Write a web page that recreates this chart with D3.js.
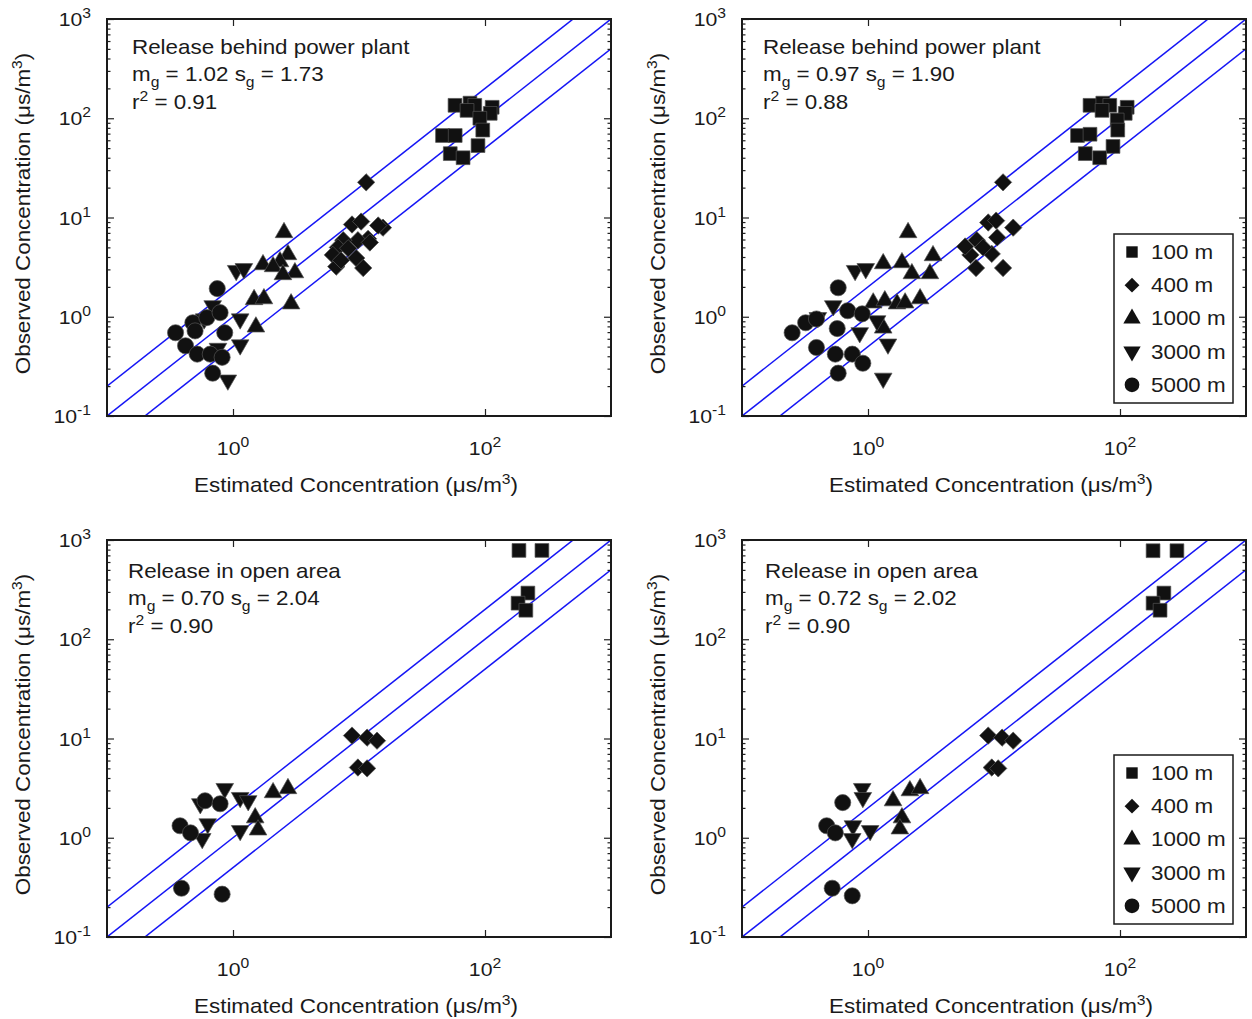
<!DOCTYPE html>
<html><head><meta charset="utf-8">
<script src="https://cdn.jsdelivr.net/npm/d3@7"></script>
<style>
body{margin:0;background:#fff}
text{font-family:"Liberation Sans",Arial,Helvetica,sans-serif;fill:#1a1a1a}
</style>
</head><body>
<svg id="c" width="1252" height="1019"></svg>
<script>
// ---------- data ----------
const seriesNames = ["100 m","400 m","1000 m","3000 m","5000 m"];
const xTickValues = [1, 100];
const xTickExp = ["0","2"];
const yTickValues = [0.1, 1, 10, 100, 1000];
const yTickExp = ["-1","0","1","2","3"];
const ratioLines = [0.5, 1, 2];

const panelTitles = ["Release behind power plant","Release behind power plant","Release in open area","Release in open area"];
const panelMg = ["1.02","0.97","0.70","0.72"];
const panelSg = ["1.73","1.90","2.04","2.02"];
const panelR2 = ["0.91","0.88","0.90","0.90"];

// top-left
const tlSq = [[57.8,135],[76,142],[83,135],[72,120],[114,129],[110,112],[91,100],[96,76],[46,67],[58,67],[88,53],[53,44],[67,40]];
const tlDi = [[11.4,22.6],[8.8,8.5],[10.4,9.1],[15.5,7.9],[14.2,8.3],[11.8,6.1],[9.8,5.9],[7.5,5.9],[6.8,5.0],[8.2,4.9],[6.2,4.2],[9.5,3.9],[10.8,3.1],[6.6,3.2],[7.2,3.7],[12.2,5.6]];
const tlUp = [[2.54,7.05],[2.73,4.23],[2.36,3.59],[1.73,3.35],[2.08,3.20],[3.10,2.78],[2.49,2.66],[2.89,1.35],[1.47,1.49],[1.76,1.52],[1.52,0.79]];
const tlDn = [[1.06,2.92],[1.22,3.05],[0.69,1.29],[0.59,0.95],[1.14,0.95],[1.14,0.52],[0.76,0.48],[0.91,0.23]];
const tlCi = [[0.75,1.92],[0.35,0.69],[0.48,0.87],[0.62,0.98],[0.79,1.10],[0.86,0.69],[0.42,0.51],[0.52,0.42],[0.66,0.42],[0.82,0.39],[0.69,0.27],[0.50,0.72]];
// top-right
const trSq = [[57.8,135],[73,142],[83,135],[72,120],[114,129],[110,112],[95,96],[96,76],[46,67],[57.8,69],[88,52],[53,44],[69,40]];
const trDi = [[11.8,22.6],[9.0,8.9],[10.4,9.3],[14.2,7.9],[10.6,6.3],[7.3,5.9],[6.5,4.2],[9.6,4.3],[11.8,3.1],[7.2,3.1],[8.2,5.0],[5.9,5.1]];
const trUp = [[2.08,7.05],[1.32,3.43],[1.86,3.51],[3.28,4.13],[2.23,2.72],[3.10,2.72],[1.10,1.38],[1.36,1.45],[1.70,1.35],[1.97,1.38],[2.59,1.52],[1.32,0.77]];
const trDn = [[0.79,2.92],[0.96,3.05],[0.53,1.29],[0.40,0.98],[0.86,0.69],[1.18,0.91],[1.44,0.53],[1.32,0.24]];
const trCi = [[0.58,1.96],[0.25,0.69],[0.32,0.87],[0.39,0.95],[0.57,0.76],[0.69,1.15],[0.90,1.07],[0.39,0.49],[0.55,0.42],[0.75,0.42],[0.91,0.34],[0.58,0.27]];
// bottom-left
const blSq = [[186,785],[283,785],[219,292],[183,231],[211,196]];
const blDi = [[8.8,10.7],[11.6,10.2],[13.9,9.5],[9.8,5.1],[11.6,5.0]];
const blUp = [[2.08,2.85],[2.73,3.13],[1.50,1.59],[1.58,1.20]];
const blDn = [[0.86,3.13],[1.14,2.54],[1.32,2.36],[0.63,1.38],[0.57,0.98],[1.14,1.18],[0.55,2.2]];
const blCi = [[0.60,2.36],[0.79,2.2],[0.38,1.32],[0.46,1.12],[0.39,0.31],[0.82,0.27]];
// bottom-right
const brSq = [[183,780],[283,780],[223,292],[183,231],[208,196]];
const brDi = [[9.0,10.7],[11.6,10.2],[14.2,9.5],[9.6,5.1],[10.8,5.0]];
const brUp = [[1.58,2.36],[2.15,2.98],[2.59,3.13],[1.86,1.59],[1.79,1.23]];
const brDn = [[0.90,3.13],[0.91,2.54],[0.76,1.32],[1.04,1.18],[0.75,0.98]];
const brCi = [[0.63,2.26],[0.47,1.32],[0.55,1.12],[0.52,0.31],[0.75,0.26]];

const panelData = [
  [tlSq, tlDi, tlUp, tlDn, tlCi],
  [trSq, trDi, trUp, trDn, trCi],
  [blSq, blDi, blUp, blDn, blCi],
  [brSq, brDi, brUp, brDn, brCi]
];
const panelLegend = [false, true, false, true];

// ---------- layout ----------
const svg = d3.select("#c");
const layouts = [
  {x0:107, x1:611, y0:19,  y1:416},
  {x0:742, x1:1246, y0:19, y1:416},
  {x0:107, x1:611, y0:540, y1:937},
  {x0:742, x1:1246, y0:540, y1:937}
];
const fill = "#111", strokeC = "#555";
const SX = 1.12; // horizontal stretch of the reference lettering

function txt(g, x, y, size, anchor, rot){
  return g.append("text")
    .attr("transform", `translate(${x},${y})` + (rot ? ` rotate(${rot})` : "") + ` scale(${SX},1)`)
    .attr("text-anchor", anchor || "start").style("font-size", size + "px");
}

function markerPath(k){
  if(k===0) return d3.symbol(d3.symbolSquare, 190)();
  if(k===1) return d3.symbol(d3.symbolSquare, 150)();
  if(k===2 || k===3) return d3.symbol(d3.symbolTriangle, 135)();
  return d3.symbol(d3.symbolCircle, 205)();
}
function markerRot(k){ return k===1 ? 45 : (k===3 ? 180 : 0); }

layouts.forEach((L, pi) => {
  const x = d3.scaleLog().domain([0.1,1000]).range([L.x0, L.x1]);
  const y = d3.scaleLog().domain([0.1,1000]).range([L.y1, L.y0]);
  const g = svg.append("g");
  const cid = "clip"+pi;
  g.append("clipPath").attr("id",cid).append("rect")
    .attr("x",L.x0).attr("y",L.y0).attr("width",L.x1-L.x0).attr("height",L.y1-L.y0);

  // reference lines
  const line = d3.line().x(d=>x(d[0])).y(d=>y(d[1]));
  ratioLines.forEach(r=>{
    g.append("path").attr("clip-path",`url(#${cid})`)
      .attr("d", line([[0.1,0.1*r],[1000,1000*r]]))
      .attr("fill","none").attr("stroke","#1515f5").attr("stroke-width",1.5);
  });

  // markers
  panelData[pi].forEach((arr,k)=>{
    g.append("g").selectAll("path").data(arr).join("path")
      .attr("d", markerPath(k))
      .attr("transform", d=>`translate(${x(d[0])},${y(d[1])}) rotate(${markerRot(k)})`)
      .attr("fill",fill).attr("stroke",strokeC).attr("stroke-width",0.7);
  });

  // axes with inward ticks
  const minor = [];
  for(let e=-1;e<3;e++) for(let m=2;m<10;m++) minor.push(m*Math.pow(10,e));
  const axStyle = sel => { sel.select(".domain").remove(); sel.selectAll("line").attr("stroke","#222").attr("stroke-width",1.2); };
  g.append("g").attr("transform",`translate(${L.x0},0)`)
    .call(d3.axisLeft(y).tickValues(yTickValues).tickSize(-7).tickFormat("")).call(axStyle);
  g.append("g").attr("transform",`translate(${L.x0},0)`)
    .call(d3.axisLeft(y).tickValues(minor).tickSize(-3.5).tickFormat("")).call(axStyle);
  g.append("g").attr("transform",`translate(${L.x1},0)`)
    .call(d3.axisRight(y).tickValues(yTickValues).tickSize(-7).tickFormat("")).call(axStyle);
  g.append("g").attr("transform",`translate(${L.x1},0)`)
    .call(d3.axisRight(y).tickValues(minor).tickSize(-3.5).tickFormat("")).call(axStyle);
  g.append("g").attr("transform",`translate(0,${L.y1})`)
    .call(d3.axisBottom(x).tickValues(xTickValues).tickSize(-7).tickFormat("")).call(axStyle);
  g.append("g").attr("transform",`translate(0,${L.y0})`)
    .call(d3.axisTop(x).tickValues(xTickValues).tickSize(-7).tickFormat("")).call(axStyle);

  // frame
  g.append("rect").attr("x",L.x0).attr("y",L.y0).attr("width",L.x1-L.x0).attr("height",L.y1-L.y0)
    .attr("fill","none").attr("stroke","#1a1a1a").attr("stroke-width",2);

  // y tick labels
  yTickValues.forEach((v,i)=>{
    const t = txt(g, L.x0-16, y(v)+7, 19, "end");
    t.append("tspan").text("10");
    t.append("tspan").attr("dy",-8).style("font-size","14px").text(yTickExp[i]);
  });
  // x tick labels
  xTickValues.forEach((v,i)=>{
    const t = txt(g, x(v), L.y1+39, 19, "middle");
    t.append("tspan").text("10");
    t.append("tspan").attr("dy",-8).style("font-size","14px").text(xTickExp[i]);
  });
  // axis titles
  const xt = txt(g, (L.x0+L.x1)/2 - 3, L.y1+76, 20, "middle");
  xt.append("tspan").text("Estimated Concentration (\u03bcs/m");
  xt.append("tspan").attr("dy",-8).style("font-size","14px").text("3");
  xt.append("tspan").attr("dy",8).text(")");
  const yt = txt(g, L.x0-77, (L.y0+L.y1)/2 - 4, 20, "middle", -90);
  yt.append("tspan").text("Observed Concentration (\u03bcs/m");
  yt.append("tspan").attr("dy",-8).style("font-size","14px").text("3");
  yt.append("tspan").attr("dy",8).text(")");

  // annotations
  const ax = L.x0 + (pi<2 ? 25 : 21) + (pi===3 ? 2 : 0) - (pi===1 ? 4 : 0);
  const ay = L.y0 + (pi<2 ? 35 : 38);
  txt(g, ax, ay, 20).text(panelTitles[pi]);
  const t2 = txt(g, ax, ay+27, 20);
  t2.append("tspan").text("m");
  t2.append("tspan").attr("dy",6).style("font-size","14px").text("g");
  t2.append("tspan").attr("dy",-6).text(" = "+panelMg[pi]+" s");
  t2.append("tspan").attr("dy",6).style("font-size","14px").text("g");
  t2.append("tspan").attr("dy",-6).text(" = "+panelSg[pi]);
  const t3 = txt(g, ax, ay+55, 20);
  t3.append("tspan").text("r");
  t3.append("tspan").attr("dy",-8).style("font-size","14px").text("2");
  t3.append("tspan").attr("dy",8).text(" = "+panelR2[pi]);

  // legend
  if(panelLegend[pi]){
    const lx = L.x1-132, ly = L.y0 + 215;
    g.append("rect").attr("x",lx).attr("y",ly).attr("width",119).attr("height",169)
      .attr("fill","#fff").attr("stroke","#1a1a1a").attr("stroke-width",1.5);
    seriesNames.forEach((n,k)=>{
      const cy = ly + 18 + k*33.2;
      const lp = k===0 ? d3.symbol(d3.symbolSquare,130)() : (k===1 ? d3.symbol(d3.symbolSquare,110)() : (k===4 ? d3.symbol(d3.symbolCircle,170)() : d3.symbol(d3.symbolTriangle,130)()));
      g.append("path").attr("d",lp).attr("transform",`translate(${lx+18},${cy}) rotate(${markerRot(k)})`)
        .attr("fill",fill);
      txt(g, lx+37, cy+7, 20).text(n);
    });
  }
});
</script>
</body></html>
